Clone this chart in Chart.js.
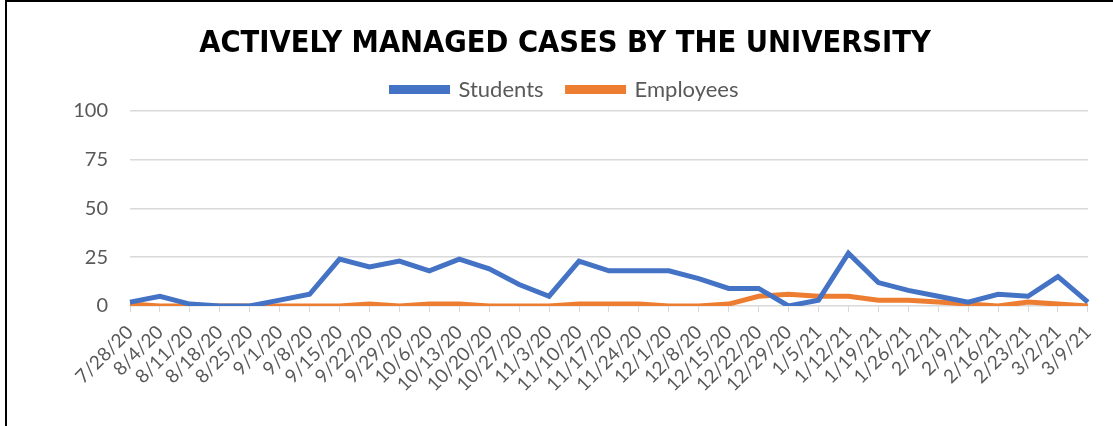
<!DOCTYPE html>
<html>
<head>
<meta charset="utf-8">
<script src="https://cdn.jsdelivr.net/npm/chart.js@4"></script>
<style>
  html, body { margin: 0; padding: 0; background: #fff; }
  #wrap { position: relative; width: 1113px; height: 426px; overflow: hidden; }
  #frame { position: absolute; left: 5px; top: 0; width: 1200px; height: 500px;
           border-left: 2px solid #000; border-top: 2px solid #000; }
  canvas { position: absolute; left: 0; top: 0; }
</style>
</head>
<body>
<div id="wrap">
  <div id="frame"></div>
  <canvas id="casesChart" width="1113" height="426"></canvas>
</div>
<script>
// ------------------------------
// DATA
// ------------------------------
const weeks = [
    "7/28/20", "8/4/20", "8/11/20", "8/18/20", "8/25/20", "9/1/20", "9/8/20",
    "9/15/20", "9/22/20", "9/29/20", "10/6/20", "10/13/20", "10/20/20", "10/27/20",
    "11/3/20", "11/10/20", "11/17/20", "11/24/20", "12/1/20", "12/8/20", "12/15/20",
    "12/22/20", "12/29/20", "1/5/21", "1/12/21", "1/19/21", "1/26/21", "2/2/21",
    "2/9/21", "2/16/21", "2/23/21", "3/2/21", "3/9/21"
];

const students = [
    2, 5, 1, 0, 0, 3, 6, 24, 20, 23, 18, 24, 19, 11, 5, 23, 18, 18, 18, 14, 9,
    9, 0, 3, 27, 12, 8, 5, 2, 6, 5, 15, 2
];

const employees = [
    1, 0, 0, 0, 0, 0, 0, 0, 1, 0, 1, 1, 0, 0, 0, 1, 1, 1, 0, 0, 1,
    5, 6, 5, 5, 3, 3, 2, 1, 0, 2, 1, 0
];

const yTicks = [0, 25, 50, 75, 100];

// ------------------------------
// CHART
// ------------------------------
const textColor = "#595959";
const gridColor = "#d9d9d9";
const fontFamily = "Lato, 'Open Sans', sans-serif";
const titleFont = "'DejaVu Sans Condensed', Lato, sans-serif";

const ctx = document.getElementById("casesChart").getContext("2d");

new Chart(ctx, {
    type: "line",
    data: {
        labels: weeks,
        datasets: [{
            label: "Students",
            data: students,
            borderColor: "#4472C4",
            backgroundColor: "#4472C4",
            borderWidth: 5,
            pointRadius: 0,
            tension: 0,
            fill: false
        }, {
            label: "Employees",
            data: employees,
            borderColor: "#ED7D31",
            backgroundColor: "#ED7D31",
            borderWidth: 5,
            pointRadius: 0,
            tension: 0,
            fill: false
        }]
    },
    options: {
        responsive: false,
        animation: false,
        layout: { padding: { left: 40, right: 23, top: 16, bottom: 0 } },
        scales: {
            x: {
                offset: false,
                grid: {
                    display: true,
                    drawOnChartArea: false,
                    drawTicks: true,
                    tickLength: 6,
                    color: gridColor
                },
                border: { display: false },
                ticks: {
                    color: textColor,
                    font: { family: fontFamily, size: 19 },
                    minRotation: 45,
                    maxRotation: 45,
                    autoSkip: false,
                    padding: 9
                },
                afterFit: (scale) => { scale.height = 120; }
            },
            y: {
                min: 0,
                max: 100,
                afterBuildTicks: (scale) => { scale.ticks = yTicks.map(v => ({ value: v })); },
                grid: { color: gridColor, lineWidth: 1.5, drawTicks: false },
                border: { display: false },
                ticks: {
                    color: textColor,
                    font: { family: fontFamily, size: 20 },
                    padding: 22
                },
                afterFit: (scale) => { scale.width = 90; }
            }
        },
        plugins: {
            title: {
                display: true,
                text: "ACTIVELY MANAGED CASES BY THE UNIVERSITY",
                color: "#000",
                font: { family: titleFont, size: 30.5, weight: "bold" },
                padding: { top: 10, bottom: -8 }
            },
            legend: {
                labels: {
                    color: textColor,
                    font: { family: fontFamily, size: 22 },
                    boxWidth: 56,
                    boxHeight: 4,
                    padding: 24
                }
            },
            tooltip: { enabled: false }
        }
    }
});
</script>
</body>
</html>
